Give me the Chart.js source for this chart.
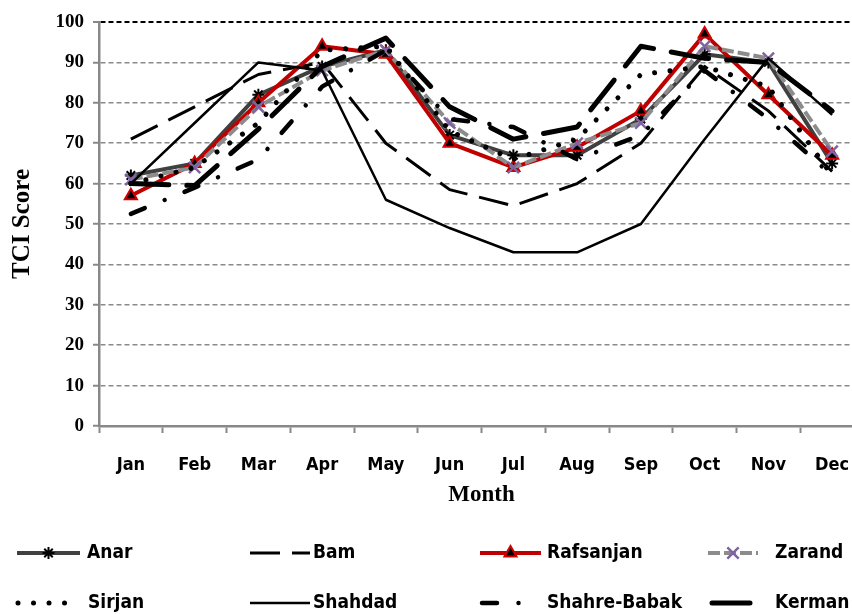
<!DOCTYPE html>
<html><head><meta charset="utf-8">
<script src="https://cdn.jsdelivr.net/npm/chart.js@4/dist/chart.umd.min.js"></script>
<style>
html,body{margin:0;padding:0;background:#fff;overflow:hidden;width:852px;height:614px}
canvas{display:block}
</style></head>
<body>
<canvas id="c" width="876" height="614"></canvas>
<script>
// ---- data ----
const months = ['Jan','Feb','Mar','Apr','May','Jun','Jul','Aug','Sep','Oct','Nov','Dec'];
const yTickValues = [0,10,20,30,40,50,60,70,80,90,100];
const seriesNames = ['Anar','Bam','Rafsanjan','Zarand','Sirjan','Shahdad','Shahre-Babak','Kerman'];
const anar        = [62, 65, 82, 89, 93, 72, 67, 67, 76, 92, 90, 65];
const bam         = [71, 79, 87, 90, 70, 58.5, 54.5, 60, 70, 89, 78, 63];
const rafsanjan   = [57, 65, 80, 94, 92, 70, 64, 69, 78, 97, 82, 67];
const zarand      = [61, 64, 79, 88, 93, 75, 64, 70, 75, 94, 91, 68];
const sirjan      = [60, 64, 75, 93, 94, 73, 66, 71, 87, 89, 84, 62];
const shahdad     = [60, 75, 90, 88, 56, 49, 43, 43, 50, 71, 91, 77];
const shahreBabak = [52.5, 59, 66, 84, 93, 76, 74, 66, 72, 88, 76, 62];
const kerman      = [60, 59.5, 73.5, 89, 96, 79, 71, 74, 94, 91, 90, 78];

// ---- styles ----
const SERIF = "'Liberation Serif', 'Times New Roman', serif";
const COND = "'DejaVu Sans', sans-serif";

const styles = [
  {borderColor:'#404040', borderWidth:4, pointStyle:'star', pointRadius:6, pointBorderColor:'#000', pointBackgroundColor:'#000', pointBorderWidth:2},
  {borderColor:'#000', borderWidth:3, borderDash:[30,12]},
  {borderColor:'#c00000', borderWidth:4, pointStyle:'triangle', pointRadius:7, pointBorderColor:'#d00000', pointBackgroundColor:'#000', pointBorderWidth:2},
  {borderColor:'#8c8c8c', borderWidth:4, borderDash:[12,4], pointStyle:'crossRot', pointRadius:8, pointBorderColor:'#8064a2', pointBackgroundColor:'#8064a2', pointBorderWidth:2.5},
  {borderColor:'#000', borderWidth:5, borderDash:[0.01,15.5], borderCapStyle:'round'},
  {borderColor:'#000', borderWidth:2.5},
  {borderColor:'#000', borderWidth:4.5, borderDash:[15,21.5,0.01,21.5], borderCapStyle:'round'},
  {borderColor:'#000', borderWidth:5, borderDash:[38,18], borderCapStyle:'round'}
];
const seriesData = [anar, bam, rafsanjan, zarand, sirjan, shahdad, shahreBabak, kerman];

const datasets = seriesNames.map((name, i) => Object.assign({
  label: name,
  data: seriesData[i],
  fill: false,
  tension: 0,
  pointRadius: 0,
  pointHoverRadius: 0,
  order: seriesNames.length - i,
  borderJoinStyle: 'round'
}, styles[i]));

// legend layout: [lineStart, lineEnd, textX, rowY]
const legendLayout = [
  [17, 80, 87, 553], [250, 310, 313, 553], [480, 541, 547, 553], [708, 758, 775, 553],
  [18, 72, 88, 603], [250, 310, 313, 603], [482, 524, 547, 603], [712, 751, 775, 603]
];

const legendPlugin = {
  id: 'excelLegend',
  afterDraw(chart) {
    const ctx = chart.ctx;
    chart.data.datasets.forEach((ds, i) => {
      const [x0, x1, tx, y] = legendLayout[i];
      ctx.save();
      ctx.strokeStyle = ds.borderColor;
      ctx.lineWidth = ds.borderWidth;
      ctx.setLineDash(ds.borderDash || []);
      ctx.lineCap = ds.borderCapStyle || 'butt';
      ctx.beginPath(); ctx.moveTo(x0, y); ctx.lineTo(x1, y); ctx.stroke();
      ctx.restore();
      if (ds.pointStyle) {
        ctx.save();
        ctx.setLineDash([]);
        ctx.fillStyle = ds.pointBackgroundColor;
        ctx.strokeStyle = ds.pointBorderColor;
        ctx.lineWidth = ds.pointBorderWidth;
        Chart.helpers.drawPoint(ctx, {pointStyle: ds.pointStyle, radius: ds.pointRadius, borderWidth: ds.pointBorderWidth, rotation: 0}, (x0 + x1) / 2, y);
        ctx.restore();
      }
      ctx.save();
      ctx.fillStyle = '#000';
      ctx.font = 'bold condensed 19px ' + COND;
      ctx.textBaseline = 'middle';
      ctx.textAlign = 'left';
      ctx.fillText(ds.label, tx, y);
      ctx.restore();
    });
  }
};

new Chart(document.getElementById('c'), {
  type: 'line',
  data: { labels: months, datasets },
  options: {
    responsive: false,
    animation: false,
    events: [],
    layout: { padding: { top: 22, right: 12, bottom: 105, left: 0 } },
    plugins: { legend: { display: false }, tooltip: { enabled: false } },
    scales: {
      x: {
        offset: true,
        grid: { offset: true, drawOnChartArea: false, drawTicks: true, tickLength: 7, tickColor: '#888', tickWidth: 2 },
        border: { color: '#888', width: 2.5 },
        ticks: { color: '#000', font: { family: COND, size: 18, weight: 'bold condensed' }, padding: 22, maxRotation: 0, autoSkip: false },
        title: { display: true, text: 'Month', color: '#000', font: { family: SERIF, size: 23, weight: 'bold' }, padding: { top: 0, bottom: 0 } },
        afterFit: s => { s.height = 83; }
      },
      y: {
        min: 0, max: 100,
        afterBuildTicks: s => { s.ticks = yTickValues.map(v => ({ value: v })); },
        ticks: { color: '#000', font: { family: SERIF, size: 19, weight: 'bold' }, padding: 9 },
        grid: {
          color: c => (c.tick && c.tick.value === 100) ? '#000' : '#8a8a8a',
          lineWidth: c => (c.tick && c.tick.value === 100) ? 2 : 1.5,
          tickLength: 6, tickColor: '#888', tickWidth: 2
        },
        border: { color: '#888', width: 2.5, dash: [5, 3] },
        title: { display: true, text: 'TCI Score', color: '#000', font: { family: SERIF, size: 25, weight: 'bold' }, padding: { top: 8, bottom: 0 } },
        afterFit: s => { s.width = 99; }
      }
    }
  },
  plugins: [legendPlugin]
});
</script>
</body></html>
